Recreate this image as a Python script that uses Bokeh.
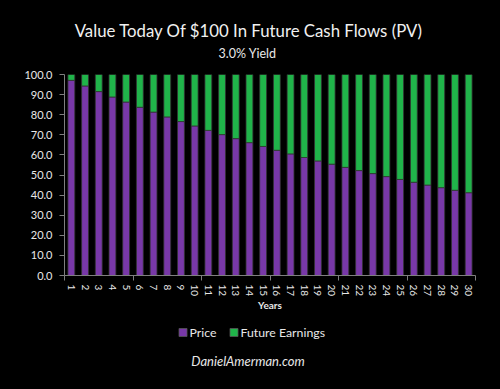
from bokeh.plotting import figure
from bokeh.layouts import column
from bokeh.core.properties import value
from bokeh.models import (ColumnDataSource, FixedTicker, NumeralTickFormatter,
                          Label, Range1d)
from bokeh.embed import file_html
from bokeh.resources import INLINE

years = list(range(1, 31))
price = [97.1, 94.3, 91.5, 88.8, 86.3, 83.7, 81.3, 78.9, 76.6, 74.4,
         72.2, 70.1, 68.1, 66.1, 64.2, 62.3, 60.5, 58.7, 57.0, 55.4,
         53.8, 52.2, 50.7, 49.2, 47.8, 46.4, 45.0, 43.7, 42.4, 41.2]
future = [round(100 - v, 1) for v in price]
y_ticks = [0, 10, 20, 30, 40, 50, 60, 70, 80, 90, 100]
series = ["Price", "Future Earnings"]
colors = ["#7838A8", "#20B44A"]

title_text = "Value Today Of $100 In Future Cash Flows (PV)"
subtitle_text = "3.0% Yield"
footer_text = "DanielAmerman.com"
FONT = "Lato"
TXT = "#e8e8e8"
BG = "black"
LEFT, RIGHT, W = 64, 25, 500


def blank(h):
    # frame aligned with the main chart; data x equals page pixel x
    f = figure(width=W, height=h, output_backend="svg", toolbar_location=None,
               x_range=Range1d(LEFT, W - RIGHT), y_range=Range1d(0, h),
               x_axis_type=None, y_axis_type=None,
               min_border_left=LEFT, min_border_right=RIGHT,
               min_border_top=0, min_border_bottom=0,
               background_fill_color=BG, border_fill_color=BG,
               outline_line_color=None)
    f.grid.visible = False
    return f


# ---- top: titles
top = blank(66)
top.add_layout(Label(x=248.5, y=36, text=title_text, text_align="center",
                     text_baseline="middle", text_color="#f0f0f0",
                     text_font=FONT, text_font_size="16.8px"))
top.add_layout(Label(x=247, y=13, text=subtitle_text, text_align="center",
                     text_baseline="middle", text_color=TXT,
                     text_font=FONT, text_font_size="12.5px"))

# ---- main chart
src = ColumnDataSource(dict(x=years, price=price, future=future))
p = figure(width=W, height=250, output_backend="svg", toolbar_location=None,
           x_range=Range1d(0.5, 30.5), y_range=Range1d(0, 100),
           min_border_left=LEFT, min_border_right=RIGHT, min_border_top=8,
           min_border_bottom=41,
           background_fill_color=BG, border_fill_color=BG,
           outline_line_color=None)
p.grid.visible = False
r = p.vbar_stack(["price", "future"], x="x", width=0.5, source=src,
                 color=colors, line_color="#333333", line_width=0.8)

p.yaxis.ticker = FixedTicker(ticks=y_ticks)
p.yaxis.formatter = NumeralTickFormatter(format="0.0")
p.yaxis.major_label_text_color = TXT
p.yaxis.major_label_text_font = FONT
p.yaxis.major_label_text_font_size = "11px"
p.yaxis.axis_line_color = "#7f7f7f"
p.yaxis.major_tick_line_color = "#7f7f7f"
p.yaxis.major_tick_out = 5
p.yaxis.major_tick_in = 0
p.yaxis.minor_tick_line_color = None
p.yaxis.major_label_standoff = 7

p.xaxis.ticker = FixedTicker(ticks=years,
                             minor_ticks=[0.5, 5.5, 10.5, 15.5, 20.5, 25.5, 30.5])
p.xaxis.major_label_overrides = {y: str(y) for y in years}
p.xaxis.major_label_orientation = "vertical"
p.xaxis.major_label_text_color = TXT
p.xaxis.major_label_text_font = FONT
p.xaxis.major_label_text_font_size = "10px"
p.xaxis.major_tick_line_color = None
p.xaxis.minor_tick_line_color = "#7f7f7f"
p.xaxis.minor_tick_out = 5
p.xaxis.minor_tick_in = 0
p.xaxis.axis_line_color = "#7f7f7f"
p.xaxis.major_label_standoff = 3
p.xaxis.axis_label = "Years"
p.xaxis.axis_label_text_color = TXT
p.xaxis.axis_label_text_font = FONT
p.xaxis.axis_label_text_font_size = "10px"
p.xaxis.axis_label_text_font_style = "bold"
p.xaxis.axis_label_standoff = 0

# ---- bottom: legend keys + footer
bot = blank(73)
key_x = [182.5, 233.5]
legend_y = 57
bot.scatter(x=key_x, y=[legend_y] * 2, marker="square", size=8,
            fill_color=colors, line_color="#555555", line_width=0.8)
bot.text(x=[kx + 6.5 for kx in key_x], y=[legend_y] * 2, text=series,
         text_align="left", text_baseline="middle", text_color=TXT,
         text_font=value(FONT), text_font_size="12.3px")
bot.add_layout(Label(x=247.5, y=29, text=footer_text, text_align="center",
                     text_baseline="middle", text_color=TXT,
                     text_font=FONT, text_font_size="13px",
                     text_font_style="italic"))

layout = column(top, p, bot, spacing=0, styles={"background-color": BG})
html = file_html(layout, INLINE)
html = html.replace("<body>", '<body style="background-color:black;">')
open("out.html", "w").write(html)
